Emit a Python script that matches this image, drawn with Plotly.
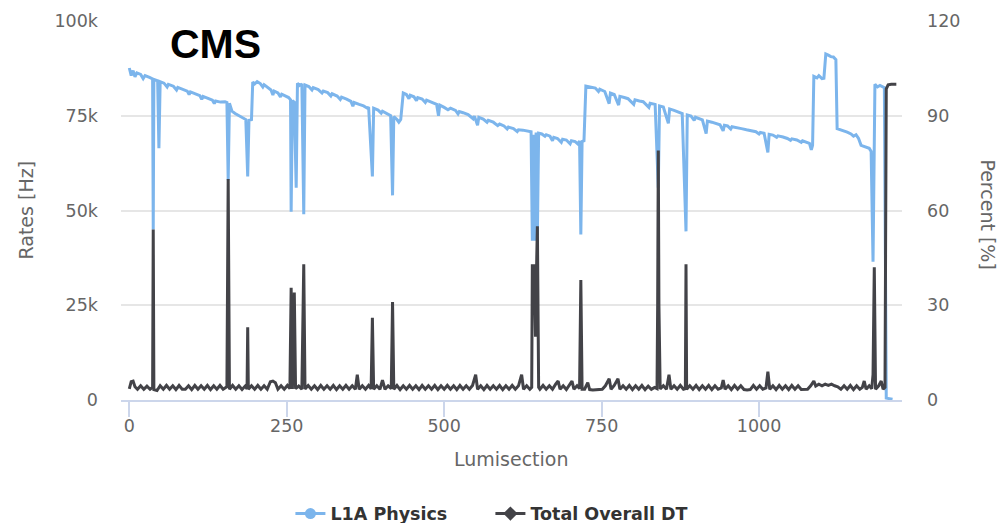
import plotly.graph_objects as go

# ---------------- data ----------------
# L1A Physics rate (Hz, in thousands) vs lumisection
l1a_ls = [
    0, 3, 6, 9, 12, 18, 22, 25, 32, 37,
    38, 39, 45, 47, 49, 55, 60, 62, 70, 75,
    77, 85, 92, 95, 97, 105, 112, 115, 117, 125,
    132, 135, 137, 145, 152, 155, 157, 159, 163, 168,
    175, 180, 185, 188, 190, 194, 196, 199, 203, 208,
    212, 214, 220, 225, 228, 230, 236, 240, 242, 248,
    253, 256, 257, 259, 262, 265, 267, 270, 274, 277,
    279, 285, 290, 292, 300, 306, 308, 315, 320, 322,
    330, 335, 337, 345, 352, 355, 357, 365, 372, 378,
    380, 386, 388, 395, 400, 402, 410, 415, 418, 420,
    425, 428, 431, 435, 440, 444, 446, 452, 456, 458,
    465, 470, 472, 480, 488, 491, 493, 500, 506, 510,
    518, 522, 524, 530, 538, 546, 548, 553, 555, 562,
    568, 570, 578, 585, 588, 595, 600, 602, 610, 616,
    618, 625, 632, 638, 640, 642, 644, 646, 648, 650,
    655, 660, 662, 668, 672, 674, 680, 686, 688, 694,
    700, 702, 708, 712, 715, 717, 719, 722, 725, 732,
    740, 745, 747, 755, 762, 764, 770, 777, 779, 786,
    792, 801, 803, 810, 816, 825, 827, 835, 840, 842,
    848, 856, 858, 865, 872, 878, 884, 886, 892, 897,
    899, 905, 910, 916, 918, 925, 932, 938, 943, 945,
    950, 955, 957, 965, 972, 980, 988, 995, 1000, 1002,
    1008, 1014, 1016, 1022, 1028, 1030, 1038, 1045, 1050, 1052,
    1060, 1067, 1069, 1075, 1080, 1083, 1085, 1087, 1092, 1095,
    1100, 1103, 1106, 1110, 1114, 1118, 1122, 1124, 1128, 1134,
    1140, 1146, 1150, 1154, 1158, 1162, 1166, 1170, 1175, 1178,
    1181, 1184, 1188, 1192, 1196, 1199, 1202, 1206, 1212,
]
l1a_rate_k = [
    87.6, 85.6, 86.9, 85.3, 86.3, 85.9, 84.8, 85.6, 85.1, 84.7,
    45.0, 84.6, 84.2, 66.4, 84.0, 83.6, 82.6, 83.3, 82.8, 81.8,
    82.5, 82.0, 81.5, 80.6, 81.3, 80.8, 80.3, 79.3, 80.1, 79.6,
    79.1, 78.2, 78.9, 78.6, 78.7, 78.5, 58.0, 78.3, 76.2, 75.6,
    75.0, 74.6, 74.0, 59.0, 73.8, 74.0, 83.9, 83.4, 84.0, 83.5,
    82.6, 83.2, 82.4, 81.8, 80.5, 81.5, 81.0, 80.0, 80.7, 80.3,
    79.8, 79.2, 49.7, 79.0, 78.6, 56.0, 83.6, 83.0, 83.4, 49.0,
    83.1, 82.7, 81.8, 82.4, 81.9, 81.0, 81.5, 81.1, 80.2, 80.8,
    80.2, 79.3, 79.9, 79.4, 78.8, 77.5, 78.5, 78.0, 77.6, 77.0,
    77.3, 59.0, 77.0, 76.5, 75.7, 76.2, 75.5, 75.0, 54.0, 74.8,
    74.0, 73.3, 74.0, 81.0, 80.6, 79.5, 80.4, 80.0, 79.0, 79.8,
    79.4, 78.5, 79.1, 78.6, 78.0, 75.0, 77.8, 77.2, 76.6, 77.0,
    76.4, 75.5, 76.1, 75.8, 75.3, 74.2, 74.9, 72.5, 74.6, 74.1,
    73.3, 73.8, 73.3, 72.4, 72.8, 72.3, 71.5, 72.0, 71.6, 70.8,
    71.3, 71.2, 71.0, 70.8, 42.0, 70.0, 42.0, 70.6, 43.5, 70.4,
    70.2, 69.6, 70.0, 69.6, 68.4, 69.3, 69.0, 68.0, 68.8, 68.6,
    67.6, 68.4, 68.2, 67.6, 68.3, 43.7, 68.2, 68.4, 82.8, 82.5,
    82.3, 81.4, 82.0, 81.4, 78.2, 81.0, 80.6, 77.8, 80.1, 79.8,
    79.5, 78.0, 79.2, 78.9, 78.7, 77.2, 78.3, 78.0, 56.0, 77.6,
    77.3, 73.0, 76.8, 76.4, 75.9, 75.6, 44.5, 75.2, 74.9, 73.8,
    74.6, 74.2, 73.9, 70.3, 73.6, 73.3, 73.0, 72.6, 71.0, 72.5,
    72.3, 71.5, 72.1, 71.9, 71.6, 71.3, 71.0, 70.8, 70.2, 70.6,
    70.4, 65.3, 70.1, 69.9, 69.3, 69.7, 69.4, 69.0, 68.5, 68.9,
    68.6, 68.0, 68.4, 68.1, 67.7, 66.0, 67.2, 85.4, 85.0, 85.6,
    84.8, 84.9, 91.3, 91.0, 90.6, 90.5, 89.8, 71.6, 71.4, 71.0,
    70.7, 70.2, 69.6, 70.0, 69.0, 67.2, 67.0, 66.6, 66.4, 65.6,
    36.5, 83.3, 82.6, 83.0, 82.6, 82.4, 0.5, 0.3, 0.2,
]

# Total Overall DT (%) vs lumisection
dt_ls = [
    0, 3, 6, 9, 13, 18, 23, 28, 33, 37,
    38, 39, 44, 49, 54, 59, 64, 69, 74, 79,
    84, 89, 94, 99, 104, 109, 114, 119, 124, 129,
    134, 139, 144, 149, 155, 157, 159, 164, 169, 174,
    179, 184, 187, 188, 189, 194, 199, 204, 209, 214,
    219, 224, 228, 232, 236, 241, 246, 251, 255, 257,
    259, 262, 264, 269, 274, 277, 279, 284, 289, 294,
    299, 304, 309, 314, 319, 324, 329, 334, 339, 344,
    349, 354, 359, 362, 365, 370, 375, 380, 384, 386,
    388, 393, 398, 402, 406, 411, 416, 418, 420, 425,
    430, 435, 440, 445, 450, 455, 460, 465, 470, 475,
    480, 485, 490, 495, 500, 505, 510, 515, 520, 525,
    530, 535, 540, 545, 550, 553, 558, 563, 568, 573,
    578, 583, 588, 593, 598, 603, 608, 613, 618, 623,
    626, 631, 636, 639, 640, 641, 643, 645, 647, 648,
    650, 652, 657, 662, 667, 672, 677, 681, 684, 689,
    694, 699, 703, 706, 711, 715, 717, 719, 723, 728,
    731, 736, 741, 746, 751, 756, 762, 765, 770, 776,
    779, 784, 789, 794, 799, 804, 809, 814, 819, 824,
    829, 834, 838, 839, 840, 841, 843, 848, 853, 857,
    860, 865, 870, 875, 880, 883, 884, 885, 890, 895,
    900, 905, 910, 915, 920, 925, 930, 935, 940, 943,
    946, 951, 956, 961, 966, 971, 976, 981, 986, 991,
    996, 1001, 1006, 1011, 1014, 1017, 1022, 1027, 1032, 1037,
    1042, 1047, 1052, 1057, 1062, 1067, 1072, 1077, 1082, 1087,
    1090, 1095, 1100, 1105, 1110, 1115, 1120, 1125, 1130, 1135,
    1140, 1145, 1150, 1155, 1160, 1164, 1167, 1170, 1175, 1179,
    1181, 1183, 1185, 1190, 1194, 1197, 1200, 1202, 1205, 1210,
    1218,
]
dt_pct = [
    3.5, 5.8, 6.0, 4.2, 3.4, 4.5, 3.4, 4.4, 3.4, 4.0,
    54.0, 3.3, 3.0, 4.5, 3.4, 4.6, 3.4, 4.5, 3.3, 4.6,
    3.4, 3.4, 4.5, 3.3, 4.6, 3.4, 4.5, 3.4, 4.6, 3.3,
    4.5, 3.4, 4.6, 3.4, 4.2, 70.0, 3.4, 4.6, 3.4, 4.5,
    3.3, 4.4, 3.5, 23.0, 3.4, 4.5, 3.4, 4.6, 3.4, 4.5,
    3.4, 5.8, 6.0, 5.5, 3.4, 4.5, 3.4, 4.6, 3.6, 35.5,
    3.5, 34.0, 3.6, 4.4, 3.4, 43.0, 3.5, 4.6, 3.4, 4.5,
    3.3, 4.6, 3.4, 4.5, 3.4, 4.6, 3.3, 4.5, 3.4, 4.6,
    3.4, 4.5, 3.4, 8.0, 3.4, 4.5, 3.4, 4.6, 3.5, 26.0,
    3.4, 4.5, 3.4, 6.3, 3.4, 4.5, 3.6, 31.0, 3.4, 4.6,
    3.3, 4.5, 3.4, 4.6, 3.4, 4.5, 3.3, 4.6, 3.4, 4.5,
    3.4, 4.6, 3.3, 4.5, 3.4, 4.6, 3.4, 4.5, 3.3, 4.6,
    3.4, 4.5, 3.4, 4.6, 8.0, 3.4, 4.5, 3.3, 4.6, 3.4,
    4.5, 3.4, 4.6, 3.3, 4.5, 3.4, 4.6, 3.4, 4.5, 8.0,
    3.4, 4.5, 3.4, 4.0, 43.0, 30.0, 43.0, 20.0, 45.0, 55.0,
    4.0, 3.4, 4.6, 3.4, 4.5, 3.4, 5.0, 6.0, 3.4, 4.5,
    3.3, 4.6, 6.0, 3.4, 4.5, 3.6, 38.0, 3.4, 3.4, 5.5,
    3.3, 3.2, 3.2, 3.3, 3.4, 4.5, 6.7, 3.4, 4.6, 6.7,
    3.4, 4.5, 3.4, 4.6, 3.3, 4.5, 3.4, 4.6, 3.3, 4.4,
    3.4, 4.0, 3.6, 30.0, 79.0, 30.0, 3.5, 4.5, 3.4, 8.0,
    3.4, 4.5, 3.4, 4.6, 3.4, 3.6, 43.0, 3.4, 4.5, 3.4,
    4.6, 3.3, 4.5, 3.4, 4.6, 3.3, 4.5, 3.4, 3.8, 6.3,
    3.4, 4.5, 3.3, 4.6, 3.4, 4.5, 3.3, 3.2, 3.3, 4.6,
    3.4, 4.5, 3.4, 3.8, 9.0, 3.4, 4.5, 3.3, 4.6, 3.4,
    4.5, 3.3, 4.6, 3.4, 4.5, 3.3, 3.3, 3.4, 4.5, 6.0,
    4.4, 5.0, 4.5, 5.0, 4.6, 5.0, 4.5, 4.2, 3.4, 4.5,
    3.4, 4.6, 3.3, 4.5, 3.4, 4.0, 6.0, 3.4, 4.5, 3.6,
    8.0, 42.0, 3.4, 4.5, 6.0, 3.4, 4.0, 98.5, 99.8, 100.0,
    100.0,
]

series_names = ["L1A Physics", "Total Overall DT"]
series_colors = ["#7cb5ec", "#434348"]

rate_ticks = [0, 25000, 50000, 75000, 100000]
rate_tick_text = ["0", "25k", "50k", "75k", "100k"]
pct_ticks = [0, 30, 60, 90, 120]
x_ticks = [0, 250, 500, 750, 1000]

# ---------------- figure ----------------
FONT = "DejaVu Sans"
GRAY = "#666666"

l1a_rate = [v * 1000 for v in l1a_rate_k]

fig = go.Figure()
fig.add_trace(go.Scatter(
    x=l1a_ls, y=l1a_rate, mode="lines", name=series_names[0],
    line=dict(color=series_colors[0], width=3), showlegend=False,
    yaxis="y"))
fig.add_trace(go.Scatter(
    x=dt_ls, y=dt_pct, mode="lines", name=series_names[1],
    line=dict(color=series_colors[1], width=3), showlegend=False,
    yaxis="y2"))
# legend entries
fig.add_trace(go.Scatter(
    x=[None], y=[None], mode="lines+markers", name=series_names[0],
    line=dict(color=series_colors[0], width=3),
    marker=dict(symbol="circle", size=11, color=series_colors[0])))
fig.add_trace(go.Scatter(
    x=[None], y=[None], mode="lines+markers", name=series_names[1],
    line=dict(color=series_colors[1], width=3),
    marker=dict(symbol="diamond", size=11, color=series_colors[1]),
    yaxis="y2"))

fig.update_layout(
    width=1002, height=523,
    margin=dict(l=121, r=100, t=21, b=123, pad=0, autoexpand=False),
    paper_bgcolor="white", plot_bgcolor="white",
    font=dict(family=FONT, color=GRAY),
    showlegend=True,
    legend=dict(orientation="h", x=0.473, xanchor="center", y=-0.30,
                yanchor="middle",
                entrywidth=155, entrywidthmode="pixels",
                font=dict(family=FONT, size=17.5, color="#333333",
                          weight="bold"),
                bgcolor="rgba(0,0,0,0)"),
    xaxis=dict(range=[-13.2, 1227], tickvals=x_ticks,
               showgrid=False, zeroline=False,
               showline=True, linecolor="#ccd6eb", linewidth=1.5,
               ticks="outside", ticklen=15, tickwidth=1.5,
               tickcolor="#ccd6eb", ticklabelstandoff=-6,
               tickfont=dict(family=FONT, size=17.5, color=GRAY)),
    yaxis=dict(range=[0, 100000], tickvals=rate_ticks,
               ticktext=rate_tick_text,
               showgrid=True, gridcolor="#e6e6e6", gridwidth=1.5,
               zeroline=False, showline=False, ticks="",
               ticklabelstandoff=22,
               tickfont=dict(family=FONT, size=17.5, color=GRAY)),
    yaxis2=dict(range=[0, 120], tickvals=pct_ticks, overlaying="y",
                side="right", showgrid=False, zeroline=False,
                showline=False, ticks="", ticklabelstandoff=24,
                tickfont=dict(family=FONT, size=17.5, color=GRAY)),
    annotations=[
        dict(text="<b>CMS</b>", xref="paper", yref="paper",
             x=0.1216, y=0.9406, xanchor="center", yanchor="middle",
             showarrow=False,
             font=dict(family="Liberation Sans", size=41, color="black")),
        dict(text="Rates [Hz]", xref="paper", yref="paper",
             x=-0.1229, y=0.5, xanchor="center", yanchor="middle",
             showarrow=False, textangle=-90,
             font=dict(family=FONT, size=19, color=GRAY)),
        dict(text="Percent [%]", xref="paper", yref="paper",
             x=1.110, y=0.49, xanchor="center", yanchor="middle",
             showarrow=False, textangle=90,
             font=dict(family=FONT, size=19, color=GRAY)),
        dict(text="Lumisection", xref="paper", yref="paper",
             x=0.5006, y=-0.1544, xanchor="center", yanchor="middle",
             showarrow=False,
             font=dict(family=FONT, size=19, color=GRAY)),
    ],
)

fig.write_html("out.html",
               config={"displayModeBar": False},
               post_script="document.body.style.margin='0';")
